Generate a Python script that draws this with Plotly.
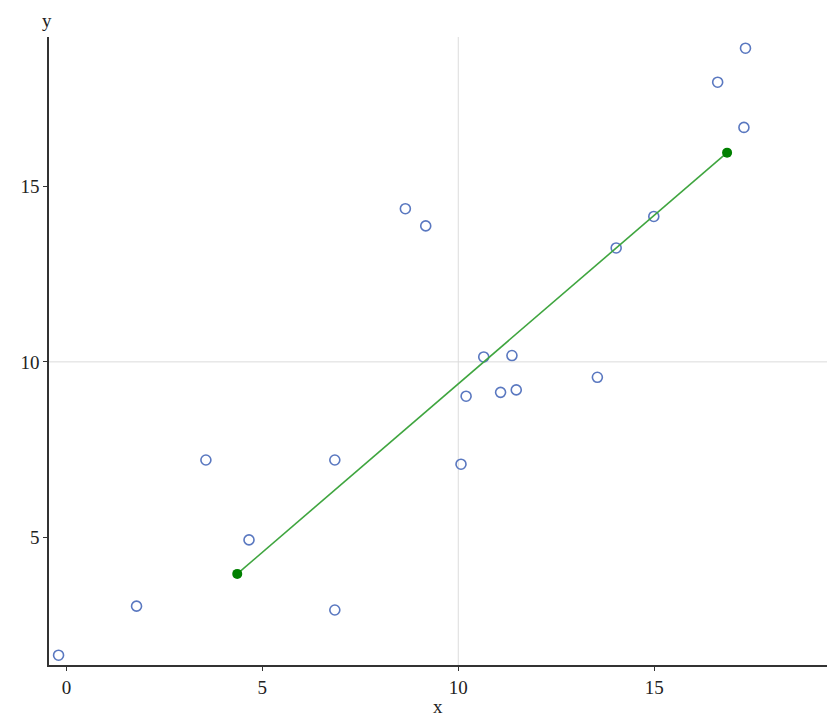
import plotly.graph_objects as go

# scatter data
pts_x = [-0.20, 1.79, 3.56, 4.66, 6.85, 6.85, 8.65, 9.17, 10.07, 10.20,
         10.65, 11.08, 11.37, 11.48, 13.55, 14.03, 14.99, 16.62, 17.29, 17.33]
pts_y = [1.63, 3.03, 7.20, 4.92, 7.20, 2.92, 14.37, 13.88, 7.08, 9.02,
         10.14, 9.13, 10.18, 9.20, 9.56, 13.25, 14.15, 17.98, 16.69, 18.95]

# fitted line endpoints
line_x = [4.36, 16.86]
line_y = [3.95, 15.97]

# reference lines
ref_x = 10
ref_y = 10

x_ticks = [0, 5, 10, 15]
y_ticks = [5, 10, 15]

x_range = [-0.444, 19.41]
y_range = [1.35, 19.27]

font_family = "Liberation Serif, Times New Roman, serif"

fig = go.Figure()

fig.add_trace(go.Scatter(
    x=pts_x, y=pts_y, mode="markers",
    marker=dict(symbol="circle-open", size=10, color="#5a78c0",
                line=dict(width=1.6, color="#5a78c0")),
    showlegend=False, hoverinfo="x+y",
))

fig.add_trace(go.Scatter(
    x=line_x, y=line_y, mode="lines+markers",
    line=dict(color="#3fa53f", width=1.6),
    marker=dict(symbol="circle", size=10, color="#008000"),
    showlegend=False,
))

fig.add_shape(type="line", xref="x", yref="paper", x0=ref_x, x1=ref_x, y0=0, y1=1,
              line=dict(color="#dcdcdc", width=1), layer="below")
fig.add_shape(type="line", xref="paper", yref="y", x0=0, x1=1, y0=ref_y, y1=ref_y,
              line=dict(color="#dcdcdc", width=1), layer="below")

fig.update_layout(
    width=832, height=711,
    margin=dict(l=41, r=13, t=29, b=54),
    paper_bgcolor="white", plot_bgcolor="white",
    font=dict(family=font_family, size=19, color="#222"),
    xaxis=dict(range=x_range, tickvals=x_ticks, showgrid=False, zeroline=False,
               showline=True, linecolor="#333", linewidth=1.5,
               ticks="outside", ticklen=4, tickcolor="#333", tickwidth=1,
               tickfont=dict(size=19, family=font_family, color="#222")),
    yaxis=dict(range=y_range, tickvals=y_ticks, showgrid=False, zeroline=False,
               showline=True, linecolor="#333", linewidth=1.5,
               ticks="outside", ticklen=4, tickcolor="#333", tickwidth=1,
               tickfont=dict(size=19, family=font_family, color="#222")),
    annotations=[
        dict(text="y", xref="paper", yref="paper", x=-0.003, y=1.0, yshift=4,
             showarrow=False, xanchor="center", yanchor="bottom",
             font=dict(size=19, family=font_family, color="#222")),
        dict(text="x", xref="paper", yref="paper", x=0.5, y=0, yshift=-29,
             showarrow=False, xanchor="center", yanchor="top",
             font=dict(size=19, family=font_family, color="#222")),
    ],
)

fig.write_html("out.html")
